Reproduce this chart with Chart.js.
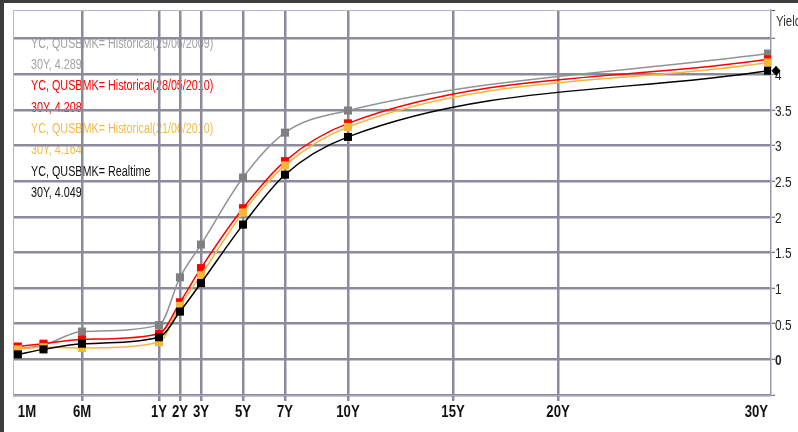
<!DOCTYPE html>
<html>
<head>
<meta charset="utf-8">
<script src="https://cdn.jsdelivr.net/npm/chart.js@4"></script>
<style>
  html, body { margin: 0; padding: 0; background: #fff; }
  #wrap { width: 798px; height: 432px; position: relative; }
</style>
</head>
<body>
<div id="wrap"><canvas id="chartCanvas" width="798" height="432"></canvas></div>
<script>
// tenors that carry a point
const tenors = ["1M", "3M", "6M", "1Y", "2Y", "3Y", "5Y", "7Y", "10Y", "30Y"];
const tenorYears = [1 / 12, 0.25, 0.5, 1, 2, 3, 5, 7, 10, 30];

// tenors shown on the axis
const axisLabels = ["1M", "6M", "1Y", "2Y", "3Y", "5Y", "7Y", "10Y", "15Y", "20Y", "30Y"];
const axisYears = [1 / 12, 0.5, 1, 2, 3, 5, 7, 10, 15, 20, 30];

const hist290609 = [0.15, 0.2, 0.39, 0.48, 1.15, 1.61, 2.55, 3.18, 3.49, 4.289];
const hist280510 = [0.18, 0.22, 0.28, 0.36, 0.8, 1.28, 2.12, 2.78, 3.31, 4.208];
const hist210610 = [0.14, 0.17, 0.16, 0.24, 0.75, 1.18, 2.06, 2.72, 3.26, 4.164];
const realtime = [0.07, 0.14, 0.22, 0.31, 0.67, 1.07, 1.89, 2.59, 3.12, 4.049];

const seriesNames = [
  "YC, QUSBMK= Historical(29/06/2009)",
  "YC, QUSBMK= Historical(28/05/2010)",
  "YC, QUSBMK= Historical(21/06/2010)",
  "YC, QUSBMK= Realtime",
];
const seriesValues = [hist290609, hist280510, hist210610, realtime];
const lineColors = ["#939393", "#ff0000", "#f5b73a", "#000000"];
const markColors = ["#808080", "#ff0000", "#f5b73a", "#000000"];
const textColors = ["#a3a3a3", "#ff0000", "#f5b94a", "#111111"];

const FONT = '"Liberation Sans", Arial, sans-serif';

// short end is stretched: below 1Y the axis runs ~7.3x faster
function xPos(t) {
  return t < 1 ? 1 - (1 - t) * 7.33 : t;
}

// no narrow font installed, so squeeze the text sideways
function narrowText(c, text, x, y, align, sx) {
  c.save();
  c.translate(x, y);
  c.scale(sx, 1);
  c.textAlign = align;
  c.fillText(text, 0, 0);
  c.restore();
}

const framePlugin = {
  id: "frame",
  beforeDraw(chart) {
    const c = chart.ctx;
    const a = chart.chartArea;
    c.save();
    c.fillStyle = "#fff";
    c.fillRect(0, 0, chart.width, chart.height);
    c.fillStyle = "#3d3d3d";
    c.fillRect(0, 0, 4, chart.height);
    c.fillRect(0, 0, chart.width, 3);

    // legend text, sits under the grid
    c.font = "14px " + FONT;
    c.textBaseline = "middle";
    seriesNames.forEach((name, i) => {
      const v = seriesValues[i];
      const y0 = a.top + 34 + i * 42.6;
      c.fillStyle = textColors[i];
      narrowText(c, name, a.left + 18, y0, "left", 0.77);
      narrowText(c, tenors[tenors.length - 1] + ", " + v[v.length - 1].toFixed(3), a.left + 18, y0 + 21.3, "left", 0.77);
    });
    c.restore();
  },
  beforeDatasetsDraw(chart) {
    const c = chart.ctx;
    const a = chart.chartArea;
    c.save();
    c.strokeStyle = "#b4b4cc";
    c.lineWidth = 1;
    c.beginPath();
    c.moveTo(a.left + 0.5, a.bottom);
    c.lineTo(a.left + 0.5, a.top + 0.5);
    c.lineTo(a.right, a.top + 0.5);
    c.stroke();
    c.restore();
  },
  afterDraw(chart) {
    const c = chart.ctx;
    const a = chart.chartArea;
    const xs = chart.scales.x;
    const ys = chart.scales.y;
    c.save();

    // x labels, first and last kept inside the plot
    c.font = "bold 16px " + FONT;
    c.fillStyle = "#111";
    c.textBaseline = "middle";
    axisYears.forEach((t, i) => {
      const px = xs.getPixelForValue(xPos(t));
      const align = i === 0 ? "left" : i === axisYears.length - 1 ? "right" : "center";
      narrowText(c, axisLabels[i], px, 413, align, 0.82);
    });

    // y labels on the right
    c.fillStyle = "#222";
    ys.ticks.forEach((tk) => {
      if (tk.value < 0 || tk.value > 4) return;
      c.font = (tk.value === 0 ? "bold " : "") + "14px " + FONT;
      narrowText(c, String(tk.value), a.right + 4, ys.getPixelForValue(tk.value) + 2, "left", 0.85);
    });

    // current value marker on the axis
    const py = ys.getPixelForValue(realtime[realtime.length - 1]);
    const px = a.right + 5;
    c.fillStyle = "#000";
    c.beginPath();
    c.moveTo(px, py - 5);
    c.lineTo(px + 4.5, py);
    c.lineTo(px, py + 5);
    c.lineTo(px - 4.5, py);
    c.closePath();
    c.fill();

    c.font = "14px " + FONT;
    c.fillStyle = "#333";
    narrowText(c, "Yield", a.right + 5, 22, "left", 0.82);
    c.restore();
  },
};

const ctx = document.getElementById("chartCanvas").getContext("2d");
new Chart(ctx, {
  type: "line",
  data: {
    datasets: seriesValues.map((vals, i) => ({
      label: seriesNames[i],
      data: tenorYears.map((t, k) => ({ x: xPos(t), y: vals[k] })),
      borderColor: lineColors[i],
      backgroundColor: markColors[i],
      borderWidth: 1.5,
      cubicInterpolationMode: "monotone",
      pointStyle: "rect",
      pointRadius: 5.7,
      pointBorderWidth: 0,
      fill: false,
      order: 3 - i,
    })),
  },
  options: {
    responsive: false,
    animation: false,
    devicePixelRatio: 1,
    layout: { padding: { left: 13, top: 10, right: 0, bottom: 0 } },
    plugins: { legend: { display: false }, tooltip: { enabled: false } },
    scales: {
      x: {
        type: "linear",
        min: -5.95,
        max: 30.14,
        afterBuildTicks(scale) {
          scale.ticks = axisYears.map((t) => ({ value: xPos(t) }));
        },
        afterFit(scale) {
          scale.height = 37;
        },
        ticks: { display: false, autoSkip: false, maxRotation: 0 },
        grid: {
          color: (c) => (c.index === 0 || c.index === axisYears.length - 1 ? "rgba(0,0,0,0)" : "#8b8b9b"),
          lineWidth: 2.5,
          tickLength: 6,
          tickColor: (c) => (c.index === 0 || c.index === axisYears.length - 1 ? "rgba(0,0,0,0)" : "#8b8b9b"),
        },
        border: { display: true, color: "#a8a8c0", width: 1 },
      },
      y: {
        position: "right",
        min: -0.5,
        max: 4.9,
        afterFit(scale) {
          scale.width = 27;
        },
        ticks: { display: false, stepSize: 0.5 },
        grid: {
          color: (c) => (c.tick && c.tick.value > 4.6 ? "#b4b4cc" : "#8b8b9b"),
          lineWidth: (c) => (c.tick && c.tick.value > 4.6 ? 1 : 2.5),
          tickLength: 4,
          tickColor: "#555",
          tickWidth: 1,
        },
        border: { display: true, color: "#9a9ab0", width: 1.5 },
      },
    },
  },
  plugins: [framePlugin],
});
</script>
</body>
</html>
